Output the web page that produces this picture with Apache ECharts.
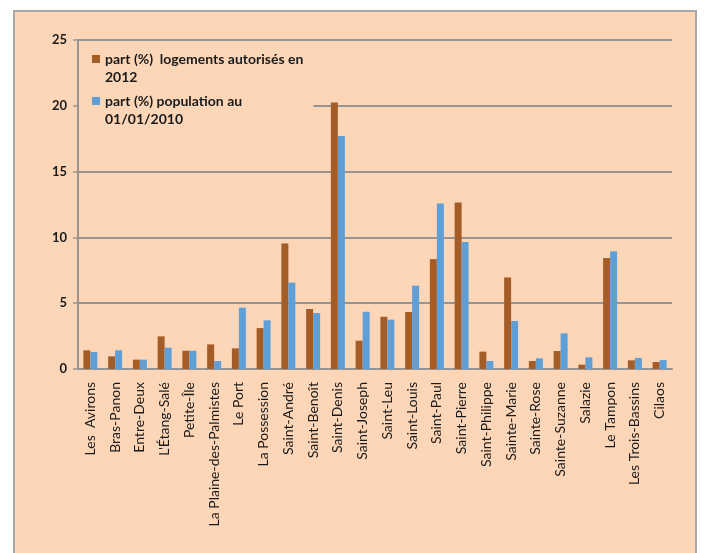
<!DOCTYPE html>
<html lang="fr">
<head>
    <meta charset="UTF-8">
    <title>Logements autorisés / population</title>
    <script src="https://cdn.jsdelivr.net/npm/echarts@6/dist/echarts.min.js"></script>
    <style>
        html, body { margin: 0; padding: 0; background: #fff; }
        #main { width: 704px; height: 553px; }
    </style>
</head>
<body>
<div id="main"></div>
<script type="text/javascript">
    var communes = ['Les  Avirons', 'Bras-Panon', 'Entre-Deux', "L'Étang-Salé", 'Petite-Île',
        'La Plaine-des-Palmistes', 'Le Port', 'La Possession', 'Saint-André', 'Saint-Benoît',
        'Saint-Denis', 'Saint-Joseph', 'Saint-Leu', 'Saint-Louis', 'Saint-Paul', 'Saint-Pierre',
        'Saint-Philippe', 'Sainte-Marie', 'Sainte-Rose', 'Sainte-Suzanne', 'Salazie', 'Le Tampon',
        'Les Trois-Bassins', 'Cilaos'];
    var logements2012 = [1.42, 0.96, 0.71, 2.48, 1.39, 1.87, 1.57, 3.11, 9.54, 4.56,
        20.25, 2.15, 3.97, 4.33, 8.35, 12.66, 1.32, 6.96, 0.61, 1.37, 0.33, 8.43, 0.66, 0.53];
    var population2010 = [1.29, 1.42, 0.71, 1.62, 1.39, 0.61, 4.66, 3.70, 6.56, 4.25,
        17.7, 4.35, 3.75, 6.33, 12.58, 9.65, 0.61, 3.65, 0.81, 2.71, 0.89, 8.94, 0.84, 0.68];
    var serieNames = ['part (%)  logements autorisés en\n2012', 'part (%) population au\n01/01/2010'];

    var chartDom = document.getElementById('main');
    var myChart = echarts.init(chartDom);
    var grey = '#959595';
    // square at the top of a taller box, so the marker sits beside the first text line
    var topSquare = 'path://M0,0h8v8h-8z M0,26h0.001v0.001h-0.001z';

    var option = {
        backgroundColor: '#ffffff',
        textStyle: { fontFamily: 'Lato' },
        graphic: [{
            type: 'rect',
            z: -10,
            shape: { x: 14, y: 11, width: 682, height: 570 },
            style: { fill: '#FDD6B7', stroke: '#a8a8a8', lineWidth: 2 }
        }],
        legend: {
            orient: 'vertical',
            left: 79,
            top: 46,
            padding: [4, 10, 6, 13],
            itemGap: 6,
            itemWidth: 8,
            itemHeight: 26,
            icon: topSquare,
            backgroundColor: '#FDD6B7',
            textStyle: { fontFamily: 'Lato', fontWeight: 'bold', fontSize: 14, color: '#1a1a1a', lineHeight: 18 },
            data: serieNames
        },
        grid: { left: 78, right: 32, top: 40, bottom: 184 },
        xAxis: {
            type: 'category',
            data: communes,
            axisLine: { lineStyle: { color: grey, width: 2 } },
            axisTick: { length: 5, lineStyle: { color: grey, width: 1.5 } },
            axisLabel: { rotate: 90, interval: 0, margin: 13, fontSize: 14, color: '#1a1a1a' }
        },
        yAxis: {
            type: 'value',
            min: 0,
            max: 25,
            interval: 5,
            axisLine: { show: true, lineStyle: { color: grey, width: 2 } },
            axisTick: { show: true, length: 5, lineStyle: { color: grey, width: 1.5 } },
            splitLine: { lineStyle: { color: grey, width: 2 } },
            axisLabel: { margin: 11, fontSize: 13, fontWeight: 'bold', color: '#1a1a1a' }
        },
        series: [
            {
                name: serieNames[0],
                type: 'bar',
                data: logements2012,
                barWidth: 7,
                barGap: '0%',
                itemStyle: { color: '#A45D26' }
            },
            {
                name: serieNames[1],
                type: 'bar',
                data: population2010,
                barWidth: 7,
                itemStyle: { color: '#5E9FD8' }
            }
        ]
    };

    option && myChart.setOption(option);
</script>
</body>
</html>
